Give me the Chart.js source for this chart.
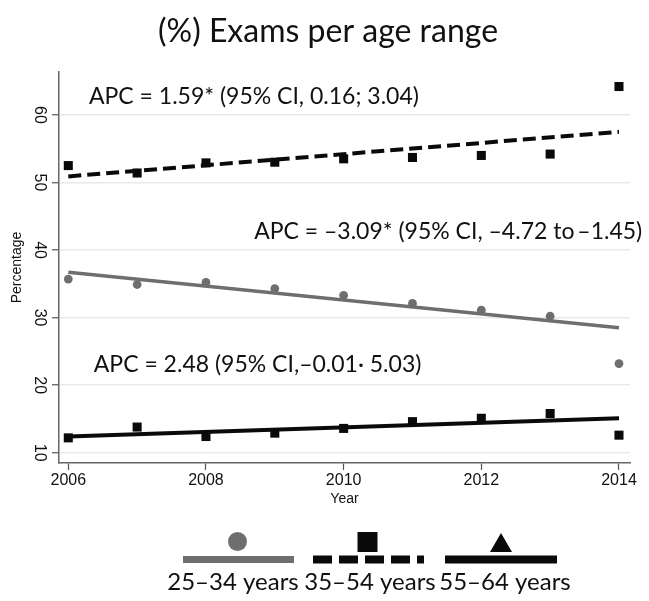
<!DOCTYPE html>
<html>
<head>
<meta charset="utf-8">
<script src="https://cdn.jsdelivr.net/npm/chart.js@4.4.0/dist/chart.umd.min.js"></script>
<style>
  body { margin: 0; background: #fff; }
</style>
</head>
<body>
<canvas id="chart" width="649" height="601"></canvas>
<script>
// dane z wykresu
var years = [2006, 2007, 2008, 2009, 2010, 2011, 2012, 2013, 2014];
var ages2534 = [35.7, 34.9, 35.2, 34.3, 33.3, 32.1, 31.1, 30.2, 23.2];
var ages3554 = [52.5, 51.4, 52.9, 53.0, 53.5, 53.7, 54.0, 54.2, 64.2];
var ages5564 = [12.2, 13.8, 12.4, 12.9, 13.6, 14.6, 15.1, 15.8, 12.6];

// linie trendu (poczatek i koniec)
var trendYears = [2006, 2014];
var trend2534 = [36.7, 28.5];
var trend3554 = [50.9, 57.5];
var trend5564 = [12.4, 15.1];

var xTicks = [2006, 2008, 2010, 2012, 2014];
var yTicks = [10, 20, 30, 40, 50, 60];
var seriesNames = ["25\u201334 years", "35\u201354 years", "55\u201364 years"];
var apcLabels = [
  "APC = 1.59* (95% CI, 0.16; 3.04)",
  "APC = \u20133.09* (95% CI, \u20134.72 to\u2009\u20131.45)",
  "APC = 2.48 (95% CI,\u20130.01\u00b7 5.03)"
];
var chartTitle = "(%) Exams per age range";

var GRAY = "#6e6e6e";
var BLACK = "#0a0a0a";
var textFont = "Lato";
var axisFont = "Liberation Sans";

function points(xs, ys) {
  var out = [];
  for (var i = 0; i < xs.length; i++) {
    out.push({ x: xs[i], y: ys[i] });
  }
  return out;
}

// tytul + napisy APC
var apcPlugin = {
  id: "apc",
  afterDatasetsDraw: function(chart) {
    var ctx = chart.ctx;
    var x = chart.scales.x;
    var y = chart.scales.y;
    var spots = [
      [2006.3, 61.6],
      [2008.7, 41.6],
      [2006.37, 21.9]
    ];
    ctx.save();
    ctx.fillStyle = "#111";
    ctx.textBaseline = "alphabetic";

    ctx.font = "32px " + textFont;
    ctx.textAlign = "center";
    ctx.fillText(chartTitle, 328, 42);

    ctx.font = "23px " + textFont;
    ctx.textAlign = "left";
    for (var i = 0; i < apcLabels.length; i++) {
      ctx.fillText(apcLabels[i], x.getPixelForValue(spots[i][0]), y.getPixelForValue(spots[i][1]));
    }
    ctx.restore();
  }
};

// legenda pod wykresem
var legendPlugin = {
  id: "bottomLegend",
  afterDraw: function(chart) {
    var ctx = chart.ctx;
    var items = [
      { x0: 183, x1: 294, color: GRAY, width: 7, dash: [], marker: "circle", label: 233 },
      { x0: 313, x1: 424, color: BLACK, width: 8, dash: [19, 7], marker: "square", label: 370 },
      { x0: 445, x1: 557, color: BLACK, width: 8, dash: [], marker: "triangle", label: 505 }
    ];
    var lineY = 559.5;
    ctx.save();
    for (var i = 0; i < items.length; i++) {
      var it = items[i];
      var cx = (it.x0 + it.x1) / 2;
      ctx.strokeStyle = it.color;
      ctx.lineWidth = it.width;
      ctx.setLineDash(it.dash);
      ctx.beginPath();
      ctx.moveTo(it.x0, lineY);
      ctx.lineTo(it.x1, lineY);
      ctx.stroke();
      ctx.setLineDash([]);

      ctx.fillStyle = it.color;
      ctx.beginPath();
      if (it.marker === "circle") {
        ctx.arc(cx - 1, 541.5, 9.5, 0, Math.PI * 2);
      } else if (it.marker === "square") {
        ctx.rect(cx - 11, 532, 20, 20);
      } else {
        ctx.moveTo(cx - 11, 552);
        ctx.lineTo(cx + 11, 552);
        ctx.lineTo(cx, 533);
        ctx.closePath();
      }
      ctx.fill();

      ctx.fillStyle = "#111";
      ctx.font = "24px " + textFont;
      ctx.textAlign = "center";
      ctx.textBaseline = "alphabetic";
      ctx.fillText(seriesNames[i], it.label, 590);
    }
    ctx.restore();
  }
};

var el = document.getElementById("chart");
new Chart(el, {
  type: "scatter",
  data: {
    datasets: [
      {
        label: seriesNames[1] + " trend",
        data: points(trendYears, trend3554),
        showLine: true,
        borderColor: BLACK,
        borderWidth: 4,
        borderDash: [13, 6],
        pointRadius: 0
      },
      {
        label: seriesNames[0] + " trend",
        data: points(trendYears, trend2534),
        showLine: true,
        borderColor: GRAY,
        borderWidth: 3.5,
        pointRadius: 0
      },
      {
        label: seriesNames[2] + " trend",
        data: points(trendYears, trend5564),
        showLine: true,
        borderColor: BLACK,
        borderWidth: 4,
        pointRadius: 0
      },
      {
        label: seriesNames[0],
        data: points(years, ages2534),
        pointStyle: "circle",
        pointRadius: 4.4,
        backgroundColor: GRAY,
        borderWidth: 0
      },
      {
        label: seriesNames[1],
        data: points(years, ages3554),
        pointStyle: "rect",
        pointRadius: 6.4,
        backgroundColor: BLACK,
        borderWidth: 0
      },
      {
        label: seriesNames[2],
        data: points(years, ages5564),
        pointStyle: "rect",
        pointRadius: 6.4,
        backgroundColor: BLACK,
        borderWidth: 0
      }
    ]
  },
  options: {
    responsive: false,
    animation: false,
    layout: { padding: { left: 0, right: 19, top: 72, bottom: 91 } },
    plugins: {
      legend: { display: false },
      tooltip: { enabled: false }
    },
    scales: {
      x: {
        type: "linear",
        min: 2005.865,
        max: 2014.16,
        afterBuildTicks: function(s) {
          s.ticks = xTicks.map(function(v) { return { value: v }; });
        },
        afterFit: function(s) { s.height = 47; },
        grid: { drawOnChartArea: false, tickLength: 7, tickColor: "#555", tickWidth: 1.2 },
        border: { color: "#666", width: 1.5 },
        ticks: {
          padding: 1,
          color: "#111",
          font: { family: axisFont, size: 16 },
          callback: function(v) { return String(v); }
        },
        title: {
          display: true,
          text: "Year",
          color: "#111",
          font: { family: axisFont, size: 14 },
          padding: { top: 0, bottom: 2 }
        }
      },
      y: {
        min: 8.48,
        max: 66.35,
        afterBuildTicks: function(s) {
          s.ticks = yTicks.map(function(v) { return { value: v }; });
        },
        afterFit: function(s) { s.width = 59; },
        grid: { color: "#e9e9e9", lineWidth: 1.5, tickLength: 7, tickColor: "#555", tickWidth: 1.2 },
        border: { color: "#666", width: 1.5 },
        ticks: {
          padding: 4,
          color: "#111",
          minRotation: -90,
          maxRotation: -90,
          crossAlign: "center",
          font: { family: axisFont, size: 16 },
          callback: function(v) { return String(v); }
        },
        title: {
          display: true,
          text: "Percentage",
          color: "#111",
          font: { family: axisFont, size: 14 },
          padding: { top: 9, bottom: 0 }
        }
      }
    }
  },
  plugins: [apcPlugin, legendPlugin]
});
</script>
</body>
</html>
